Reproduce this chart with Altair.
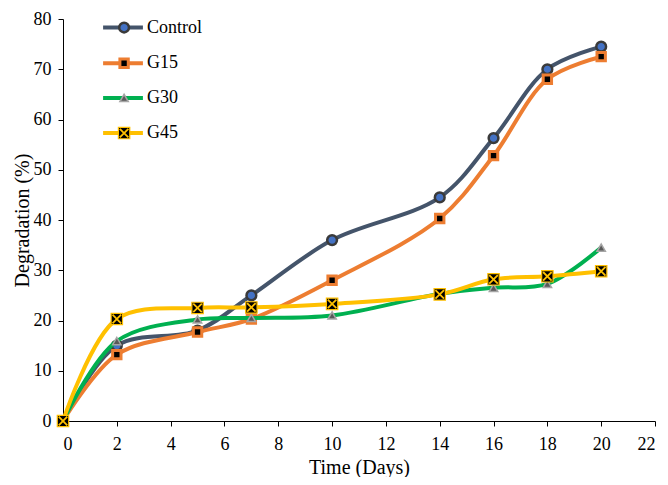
import altair as alt
import pandas as pd

days = [0, 2, 5, 7, 10, 14, 16, 18, 20]
control = [0, 15.0, 18.0, 25.0, 36.0, 44.5, 56.3, 70.0, 74.5]
g15 = [0, 13.2, 17.7, 20.3, 28.0, 40.3, 52.8, 68.0, 72.5]
g30 = [0, 15.9, 20.2, 20.5, 21.0, 25.3, 26.5, 27.3, 34.5]
g45 = [0, 20.3, 22.5, 22.6, 23.3, 25.2, 28.2, 28.8, 29.8]

series_names = ["Control", "G15", "G30", "G45"]
series_values = [control, g15, g30, g45]

# legend placement in data units (goes through the scales)
legend_y = [78.3, 71.2, 64.3, 57.3]
legend_x0, legend_xm, legend_x1, legend_xt = 1.49, 2.27, 2.97, 3.12

FONT = "'Liberation Serif', 'Times New Roman', 'DejaVu Serif', serif"

styles = {
    "Control": dict(line="#44546A", shape="circle", fill="#4472C4", stroke="#3A3A3A", sw=2.5, size=95),
    "G15": dict(line="#ED7D31", shape="square", fill="#000000", stroke="#ED7D31", sw=3, size=70),
    "G30": dict(line="#00B050", shape="triangle-up", fill="#595959", stroke="#A5A5A5", sw=1.5, size=70),
    "G45": dict(line="#FFC000", shape="square", fill="#000000", stroke="#FFC000", sw=1.2, size=130),
}
XPATH = "M-0.75,-0.75L0.75,0.75M-0.75,0.75L0.75,-0.75"

xscale = alt.Scale(domain=[0, 22], nice=False)
yscale = alt.Scale(domain=[0, 80], nice=False)

xaxis = alt.Axis(values=list(range(0, 23, 2)), title="Time (Days)", grid=False,
                 labelFont=FONT, labelFontSize=18, labelColor="black",
                 titleFont=FONT, titleFontSize=20, titleFontWeight="normal", titleColor="black",
                 domainColor="black", tickColor="black", tickSize=5, labelPadding=9, titlePadding=4)
yaxis = alt.Axis(values=list(range(0, 81, 10)), title="Degradation (%)", grid=False,
                 labelFont=FONT, labelFontSize=18, labelColor="black",
                 titleFont=FONT, titleFontSize=20, titleFontWeight="normal", titleColor="black",
                 domainColor="black", tickColor="black", tickSize=5, labelPadding=7, titlePadding=1)

layers = []
first = True
for name, vals in zip(series_names, series_values):
    st = styles[name]
    df = pd.DataFrame({"day": days, "value": vals, "series": name})
    base = alt.Chart(df)
    if first:
        xenc = alt.X("day:Q", scale=xscale, axis=xaxis)
        yenc = alt.Y("value:Q", scale=yscale, axis=yaxis)
        first = False
    else:
        xenc = alt.X("day:Q", scale=xscale)
        yenc = alt.Y("value:Q", scale=yscale)
    line = base.mark_line(interpolate="catmull-rom", strokeWidth=4, color=st["line"]).encode(x=xenc, y=yenc)
    pts = base.mark_point(shape=st["shape"], filled=True, fill=st["fill"], stroke=st["stroke"],
                          strokeWidth=st["sw"], size=st["size"], opacity=1).encode(x="day:Q", y="value:Q")
    layers += [line, pts]
    if name == "G45":
        layers.append(base.mark_point(shape=XPATH, filled=False, stroke="#FFC000", strokeWidth=1.8,
                                      size=130, opacity=1).encode(x="day:Q", y="value:Q"))

# manual legend
for name, ly in zip(series_names, legend_y):
    st = styles[name]
    ldf = pd.DataFrame({"x0": [legend_x0], "x1": [legend_x1], "xm": [legend_xm], "xt": [legend_xt],
                        "y": [ly], "label": [name]})
    lb = alt.Chart(ldf)
    layers.append(lb.mark_rule(strokeWidth=4, color=st["line"]).encode(x="x0:Q", x2="x1:Q", y="y:Q"))
    layers.append(lb.mark_point(shape=st["shape"], filled=True, fill=st["fill"], stroke=st["stroke"],
                                strokeWidth=st["sw"], size=st["size"], opacity=1).encode(x="xm:Q", y="y:Q"))
    if name == "G45":
        layers.append(lb.mark_point(shape=XPATH, filled=False, stroke="#FFC000", strokeWidth=1.8,
                                    size=130, opacity=1).encode(x="xm:Q", y="y:Q"))
    layers.append(lb.mark_text(align="left", baseline="middle", font=FONT, fontSize=18, color="black")
                  .encode(x="xt:Q", y="y:Q", text="label:N"))

chart = alt.layer(*layers).properties(
    width=592, height=402,
    autosize=alt.AutoSizeParams(type="none"),
    padding={"left": 55, "top": 11, "right": 5, "bottom": 56},
).configure_view(stroke=None)

chart.save("out.html", embed_options={"renderer": "svg", "actions": False})
